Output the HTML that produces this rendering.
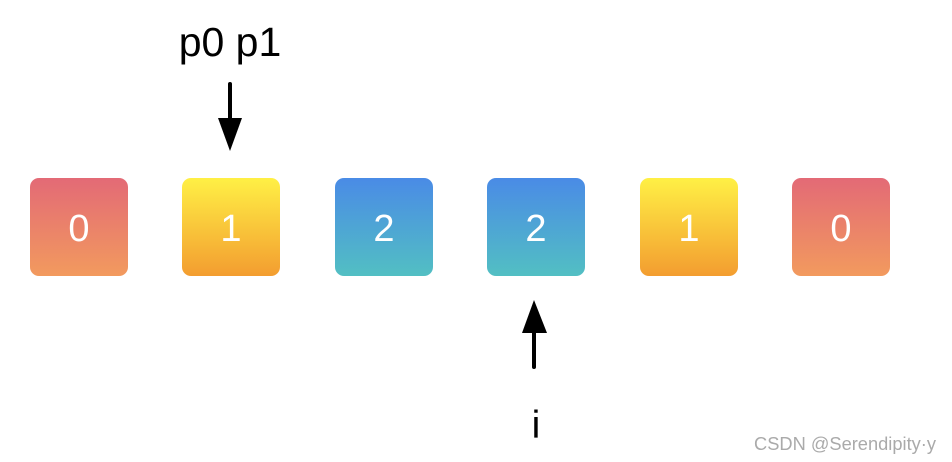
<!DOCTYPE html>
<html><head><meta charset="utf-8"><style>
html,body{margin:0;padding:0;background:#fff;width:952px;height:462px;overflow:hidden}
</style></head><body>
<svg width="952" height="462" xmlns="http://www.w3.org/2000/svg" font-family="Liberation Sans, sans-serif">
<defs>
<linearGradient id="r" x1="0" y1="0" x2="0" y2="1"><stop offset="0" stop-color="#e36a76"/><stop offset="1" stop-color="#f29a5e"/></linearGradient>
<linearGradient id="y" x1="0" y1="0" x2="0" y2="1"><stop offset="0" stop-color="#fff045"/><stop offset="1" stop-color="#f39d30"/></linearGradient>
<linearGradient id="b" x1="0" y1="0" x2="0" y2="1"><stop offset="0" stop-color="#4a8be6"/><stop offset="1" stop-color="#52bfc3"/></linearGradient>
</defs>
<g font-size="38" fill="#fff" text-anchor="middle">
<rect x="30" y="178" width="98" height="98" rx="9" fill="url(#r)"/><text x="79" y="241">0</text>
<rect x="182" y="178" width="98" height="98" rx="9" fill="url(#y)"/><text x="231" y="241">1</text>
<rect x="335" y="178" width="98" height="98" rx="9" fill="url(#b)"/><text x="384" y="241">2</text>
<rect x="487" y="178" width="98" height="98" rx="9" fill="url(#b)"/><text x="536" y="241">2</text>
<rect x="640" y="178" width="98" height="98" rx="9" fill="url(#y)"/><text x="689" y="241">1</text>
<rect x="792" y="178" width="98" height="98" rx="9" fill="url(#r)"/><text x="841" y="241">0</text>
</g>
<text x="230" y="56" font-size="41" text-anchor="middle" fill="#000">p0 p1</text>
<line x1="230" y1="84" x2="230" y2="122" stroke="#000" stroke-width="4" stroke-linecap="round"/>
<polygon points="218,118 242,118 230,151" fill="#000"/>
<line x1="534" y1="330" x2="534" y2="367" stroke="#000" stroke-width="4" stroke-linecap="round"/>
<polygon points="522,333 547,333 534,300" fill="#000"/>
<text x="536" y="438" font-size="39" text-anchor="middle" fill="#000">i</text>
<text x="754" y="450" font-size="18" fill="#aaa" textLength="182" lengthAdjust="spacingAndGlyphs">CSDN @Serendipity·y</text>
</svg>
</body></html>
